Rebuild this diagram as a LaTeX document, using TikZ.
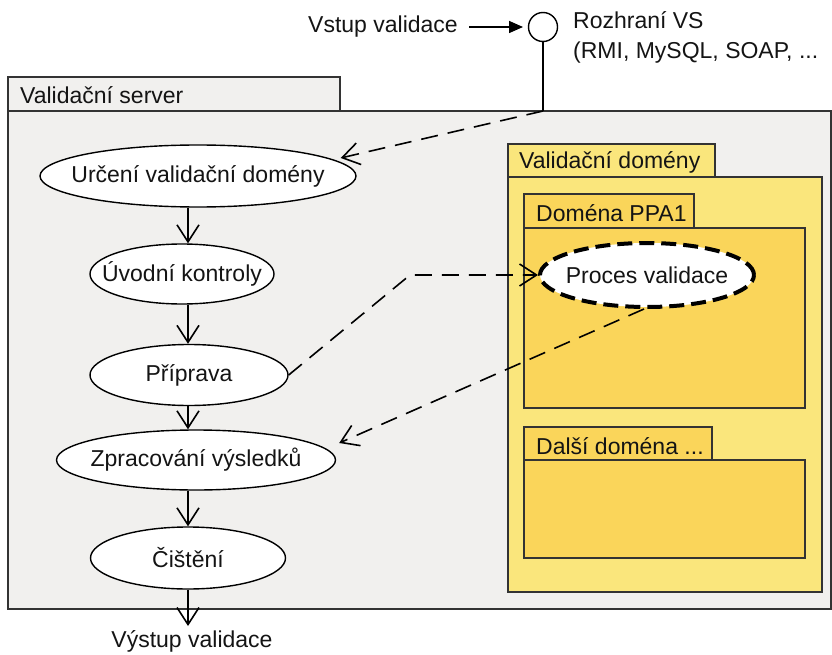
\documentclass[tikz,border=0pt]{standalone}
\usepackage{fontspec}
\setmainfont{Liberation Sans}
\usetikzlibrary{shapes.geometric,arrows.meta,calc}
\definecolor{gbg}{HTML}{F1F0EE}
\definecolor{ln}{HTML}{333333}
\definecolor{yl}{HTML}{FAE67C}
\definecolor{yd}{HTML}{FAD55A}
\begin{document}
\begin{tikzpicture}[x=1pt,y=-1pt,
  every node/.style={font=\fontsize{23}{30}\selectfont, text=black!92},
  every label/.style={inner sep=0pt},
  box/.style={draw=ln, line width=1.6pt},
  proc/.style={ellipse, draw=black, line width=1.4pt, fill=white, inner sep=0pt},
  tip/.style={-{Straight Barb[length=17pt,width=22pt,line width=1.6pt]}},
  flowarr/.style={line width=1.6pt, tip},
  dasharr/.style={line width=1.6pt, dash pattern=on 17pt off 10pt, tip},
  lbl/.style={anchor=west, inner sep=0pt}]
\useasboundingbox (0,0) rectangle (832,655);
% validation server
\draw[box, fill=gbg] (8,77) rectangle (340,111);
\draw[box, fill=gbg] (8,111) rectangle (831,609);
\node[lbl] (vsl) at (20,95) {Validační server};
% validation domains
\draw[box, fill=yl] (508,144) rectangle (715,177);
\draw[box, fill=yl] (508,177) rectangle (822,592);
\node[lbl] (vdl) at (519,162) {Validační domény};
\draw[box, fill=yd] (524,194) rectangle (694,228);
\draw[box, fill=yd] (524,228) rectangle (805,408);
\node[lbl] (ppl) at (536,213) {Doména PPA1};
\draw[box, fill=yd] (524,427) rectangle (712,460);
\draw[box, fill=yd] (524,460) rectangle (805,558);
\node[lbl] (ddl) at (536,446) {Další doména ...};
% interface
\node[circle, draw=black, line width=1.4pt, fill=white, minimum size=29pt, inner sep=0pt] (ifc) at (543,27) {};
\coordinate (ifb) at (543,111);
\draw[line width=1.6pt] (ifc.south) -- (ifb);
\node[anchor=east, inner sep=0pt] (vin) at (458,27) {Vstup validace};
\coordinate (vins) at (469,27);
\coordinate (vine) at (523,27);
\draw[line width=1.6pt, -{Triangle[length=14pt,width=12pt]}] (vins) -- (vine);
\node[anchor=north west, inner sep=0pt, align=left] (rvs) at (573,11) {Rozhraní VS\\(RMI, MySQL, SOAP, ...};
% process nodes
\node[proc, minimum width=316pt, minimum height=62pt, label={center:Určení validační domény}] (urc) at (198,176) {};
\node[proc, minimum width=184pt, minimum height=60pt, label={center:Úvodní kontroly}] (uvo) at (182,274) {};
\node[proc, minimum width=198pt, minimum height=61pt, label={center:Příprava}] (pri) at (189,375) {};
\node[proc, minimum width=279pt, minimum height=60pt, label={center:Zpracování výsledků}] (zpr) at (196,460) {};
\node[proc, minimum width=195pt, minimum height=62pt, label={center:Čištění}] (cis) at (188,558) {};
\node[ellipse, draw=black, line width=4pt, dash pattern=on 15pt off 7pt, fill=white, inner sep=0pt, minimum width=214pt, minimum height=64pt, label={center:Proces validace}] (pv) at (647,275) {};
\node[inner sep=0pt] (out) at (192,641) {Výstup validace};
% flow arrows
\draw[flowarr] (urc.south -| 188,0) -- (uvo.north -| 188,0);
\draw[flowarr] (uvo.south -| 188,0) -- (pri.north -| 188,0);
\draw[flowarr] (pri.south -| 188,0) -- (zpr.north -| 188,0);
\draw[flowarr] (zpr.south -| 188,0) -- (cis.north -| 188,0);
\draw[flowarr] (cis.south -| 188,0) -- (188,626);
% dashed arrows
\draw[dasharr] (ifb) -- ($(urc.east)+(-16,-18)$);
\coordinate (bend) at (410,275);
\draw[dasharr] (pri.east) -- (bend) -- (pv.west);
\draw[dasharr] (pv.265) -- ($(zpr.east)+(3,-17)$);
\end{tikzpicture}
\end{document}
